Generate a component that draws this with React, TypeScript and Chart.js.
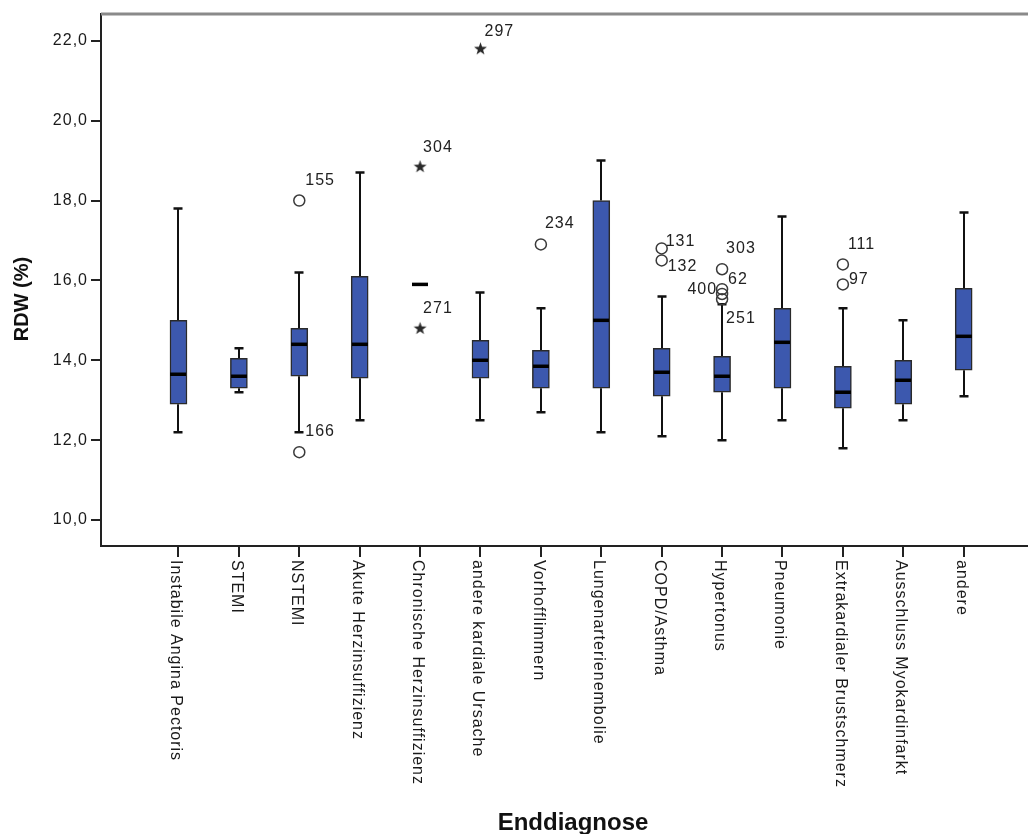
import React, { useEffect, useRef } from "react";
import { Chart, registerables } from "chart.js";

Chart.register(...registerables);

const categories = [
  "Instabile Angina Pectoris",
  "STEMI",
  "NSTEMI",
  "Akute Herzinsuffizienz",
  "Chronische Herzinsuffizienz",
  "andere kardiale Ursache",
  "Vorhofflimmern",
  "Lungenarterienembolie",
  "COPD/Asthma",
  "Hypertonus",
  "Pneumonie",
  "Extrakardialer Brustschmerz",
  "Ausschluss Myokardinfarkt",
  "andere",
];

const whiskerLow = [12.2, 13.2, 12.2, 12.5, null, 12.5, 12.7, 12.2, 12.1, 12.0, 12.5, 11.8, 12.5, 13.1];
const q1 = [12.9, 13.3, 13.6, 13.55, null, 13.55, 13.3, 13.3, 13.1, 13.2, 13.3, 12.8, 12.9, 13.75];
const median = [13.65, 13.6, 14.4, 14.4, 15.9, 14.0, 13.85, 15.0, 13.7, 13.6, 14.45, 13.2, 13.5, 14.6];
const q3 = [15.0, 14.05, 14.8, 16.1, null, 14.5, 14.25, 18.0, 14.3, 14.1, 15.3, 13.85, 14.0, 15.8];
const whiskerHigh = [17.8, 14.3, 16.2, 18.7, null, 15.7, 15.3, 19.0, 15.6, 15.4, 17.6, 15.3, 15.0, 17.7];

// mild outliers (circles)
const outlierCat = [2, 2, 6, 8, 8, 9, 9, 9, 9, 11, 11];
const outlierValue = [18.0, 11.7, 16.9, 16.8, 16.5, 16.28, 15.78, 15.66, 15.53, 16.4, 15.9];
const outlierLabel = ["155", "166", "234", "131", "132", "303", "62", "400", "251", "111", "97"];
// label offsets [dx, dy, align]
const outlierLabelOffset: [number, number, string][] = [
  [6, -20, "left"], [6, -21, "left"], [4, -21, "left"], [4, -7, "left"], [6, 6, "left"],
  [4, -21, "left"], [6, -10, "left"], [-5, -4, "right"], [4, 19, "left"], [5, -20, "left"], [6, -5, "left"],
];

// extreme values (stars)
const extremeCat = [5, 4, 4];
const extremeValue = [21.8, 18.85, 14.8];
const extremeLabel = ["297", "304", "271"];
const extremeLabelOffset: [number, number, string][] = [
  [4, -17, "left"], [3, -19, "left"], [3, -20, "left"],
];

const yTicks = [10, 12, 14, 16, 18, 20, 22];

const FONT = "'Liberation Sans', Arial, sans-serif";

function makeStar(): HTMLCanvasElement {
  const c = document.createElement("canvas");
  c.width = 15;
  c.height = 15;
  const g = c.getContext("2d")!;
  g.fillStyle = "#2a2a2a";
  g.beginPath();
  const cx = 7.5, cy = 7.8, R = 6.8, r = 2.7;
  for (let k = 0; k < 10; k++) {
    const ang = -Math.PI / 2 + (k * Math.PI) / 5;
    const rad = k % 2 === 0 ? R : r;
    const px = cx + rad * Math.cos(ang);
    const py = cy + rad * Math.sin(ang);
    if (k === 0) g.moveTo(px, py);
    else g.lineTo(px, py);
  }
  g.closePath();
  g.fill();
  return c;
}

const boxPlugin = {
  id: "boxPlugin",
  beforeDraw(chart: any) {
    const ctx = chart.ctx;
    try { (ctx as any).letterSpacing = "1px"; } catch (e) {}
  },
  beforeDatasetsDraw(chart: any) {
    const ctx = chart.ctx;
    const xs = chart.scales.x;
    const ys = chart.scales.y;
    ctx.save();
    ctx.strokeStyle = "#111";
    for (let i = 0; i < categories.length; i++) {
      if (whiskerLow[i] == null || whiskerHigh[i] == null) continue;
      const px = Math.round(xs.getPixelForValue(i));
      const yl = ys.getPixelForValue(whiskerLow[i] as number);
      const yh = ys.getPixelForValue(whiskerHigh[i] as number);
      const yq1 = ys.getPixelForValue(q1[i] as number);
      const yq3 = ys.getPixelForValue(q3[i] as number);
      ctx.lineWidth = 2;
      ctx.beginPath();
      ctx.moveTo(px, yh);
      ctx.lineTo(px, yq3);
      ctx.moveTo(px, yq1);
      ctx.lineTo(px, yl);
      ctx.stroke();
      ctx.lineWidth = 2.5;
      ctx.beginPath();
      ctx.moveTo(px - 4.5, yh);
      ctx.lineTo(px + 4.5, yh);
      ctx.moveTo(px - 4.5, yl);
      ctx.lineTo(px + 4.5, yl);
      ctx.stroke();
    }
    ctx.restore();
  },
  afterDatasetsDraw(chart: any) {
    const ctx = chart.ctx;
    const xs = chart.scales.x;
    const ys = chart.scales.y;
    const area = chart.chartArea;
    ctx.save();
    // medians
    ctx.strokeStyle = "#000";
    ctx.lineWidth = 3.5;
    for (let i = 0; i < categories.length; i++) {
      const px = Math.round(xs.getPixelForValue(i));
      const py = ys.getPixelForValue(median[i]);
      ctx.beginPath();
      ctx.moveTo(px - 8, py);
      ctx.lineTo(px + 8, py);
      ctx.stroke();
    }
    // outlier labels
    ctx.fillStyle = "#222";
    ctx.font = `16px ${FONT}`;
    ctx.textBaseline = "middle";
    for (let k = 0; k < outlierValue.length; k++) {
      const px = xs.getPixelForValue(outlierCat[k]);
      const py = ys.getPixelForValue(outlierValue[k]);
      const [dx, dy, al] = outlierLabelOffset[k];
      ctx.textAlign = al as CanvasTextAlign;
      ctx.fillText(outlierLabel[k], px + dx, py + dy);
    }
    for (let k = 0; k < extremeValue.length; k++) {
      const px = xs.getPixelForValue(extremeCat[k]);
      const py = ys.getPixelForValue(extremeValue[k]);
      const [dx, dy, al] = extremeLabelOffset[k];
      ctx.textAlign = al as CanvasTextAlign;
      ctx.fillText(extremeLabel[k], px + dx, py + dy);
    }
    // top frame line
    ctx.strokeStyle = "#8a8a8a";
    ctx.lineWidth = 3;
    ctx.beginPath();
    ctx.moveTo(area.left, area.top);
    ctx.lineTo(chart.width, area.top);
    ctx.stroke();
    // x ticks and labels
    ctx.strokeStyle = "#222";
    ctx.lineWidth = 2;
    ctx.fillStyle = "#1a1a1a";
    ctx.textAlign = "left";
    ctx.textBaseline = "middle";
    for (let i = 0; i < categories.length; i++) {
      const px = Math.round(xs.getPixelForValue(i));
      ctx.beginPath();
      ctx.moveTo(px, area.bottom);
      ctx.lineTo(px, area.bottom + 11);
      ctx.stroke();
      ctx.save();
      ctx.translate(px - 3, area.bottom + 14);
      ctx.rotate(Math.PI / 2);
      ctx.fillText(categories[i], 0, 0);
      ctx.restore();
    }
    // axis titles
    try { (ctx as any).letterSpacing = "0px"; } catch (e) {}
    ctx.fillStyle = "#111";
    ctx.font = `bold 24px ${FONT}`;
    ctx.textAlign = "center";
    ctx.textBaseline = "alphabetic";
    ctx.fillText("Enddiagnose", 573, 830);
    ctx.save();
    ctx.translate(22, 299);
    ctx.rotate(-Math.PI / 2);
    ctx.font = `bold 20px ${FONT}`;
    ctx.textBaseline = "middle";
    ctx.fillText("RDW (%)", 0, 0);
    ctx.restore();
    ctx.restore();
  },
};

export default function App() {
  const ref = useRef<HTMLCanvasElement | null>(null);
  useEffect(() => {
    if (!ref.current) return;
    const star = makeStar();
    const boxData = q1
      .map((v, i) => (v == null ? null : { x: i, y: [v, q3[i] as number] }))
      .filter((d) => d != null);
    const chart = new Chart(ref.current, {
      type: "bar",
      data: {
        datasets: [
          {
            type: "bar",
            data: boxData as any,
            backgroundColor: "#3c58ae",
            borderColor: "#2a2a2a",
            borderWidth: 1.5,
            borderSkipped: false,
            barThickness: 17,
            grouped: false,
          } as any,
          {
            type: "scatter",
            data: outlierValue.map((v, k) => ({ x: outlierCat[k], y: v })),
            pointStyle: "circle",
            pointRadius: 5.5,
            pointBorderWidth: 1.5,
            pointBorderColor: "#3a3a3a",
            pointBackgroundColor: "rgba(0,0,0,0)",
          } as any,
          {
            type: "scatter",
            data: extremeValue.map((v, k) => ({ x: extremeCat[k], y: v })),
            pointStyle: star,
            pointRadius: 6,
          } as any,
        ],
      },
      options: {
        responsive: false,
        animation: false,
        layout: { autoPadding: false, padding: { top: 14, left: 0, right: 0, bottom: 0 } },
        plugins: { legend: { display: false }, tooltip: { enabled: false } },
        scales: {
          x: {
            type: "linear",
            offset: false,
            min: -1.283,
            max: 14.065,
            grid: { display: false },
            border: { display: true, color: "#222", width: 2 },
            ticks: { display: false },
            afterFit: (s: any) => {
              s.height = 288;
              s.paddingLeft = 0;
              s.paddingRight = 0;
            },
          },
          y: {
            type: "linear",
            min: 9.35,
            max: 22.67,
            afterBuildTicks: (s: any) => {
              s.ticks = yTicks.map((v) => ({ value: v }));
            },
            afterFit: (s: any) => {
              s.width = 101;
            },
            grid: {
              display: true,
              drawOnChartArea: false,
              drawTicks: true,
              tickLength: 10,
              color: "#222",
              lineWidth: 2,
            },
            border: { display: true, color: "#222", width: 2 },
            ticks: {
              padding: 3,
              color: "#1a1a1a",
              font: { size: 16, family: FONT },
              callback: (v: any) => Number(v).toFixed(1).replace(".", ","),
            },
          },
        },
      } as any,
      plugins: [boxPlugin],
    });
    return () => chart.destroy();
  }, []);
  return (
    <div style={{ position: "absolute", left: 0, top: 0, width: 1028, height: 834, background: "#fff" }}>
      <canvas ref={ref} width={1028} height={834} style={{ display: "block" }} />
    </div>
  );
}
